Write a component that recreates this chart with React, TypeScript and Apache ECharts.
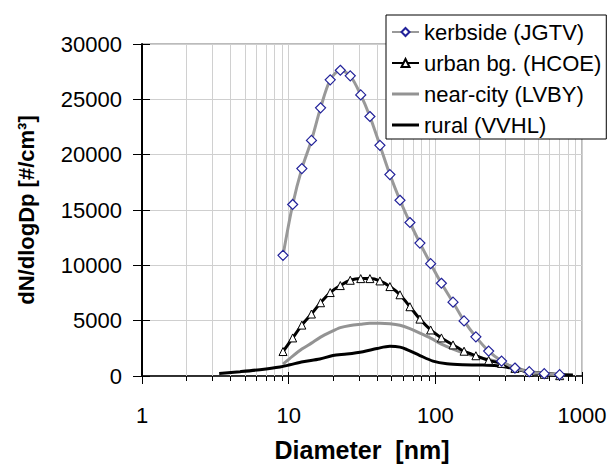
import React, { useEffect, useRef } from "react";
import * as echarts from "echarts";

// Diameters [nm] shared by kerbside, urban bg. and near-city size distributions
const diameters = [9.15, 10.65, 12.3, 14.3, 16.5, 19.2, 22.5, 26.3, 31.0, 35.8, 41.9, 49.0, 57.4, 67.1, 78.5, 92.9, 110, 132, 157, 189, 231, 283, 349, 437, 553, 704];
const kerbside = [10900, 15500, 18740, 21290, 24230, 26760, 27630, 27120, 25400, 23450, 20840, 18200, 15880, 13870, 12010, 10150, 8380, 6670, 4980, 3540, 2250, 1350, 720, 390, 210, 120];
const urbanBg = [2210, 3440, 4600, 5600, 6620, 7540, 8170, 8650, 8800, 8800, 8590, 8080, 7340, 6260, 5140, 4160, 3440, 2810, 2240, 1830, 1410, 1140, 690, 330, 150, 30];
const nearCity = [1080, 1800, 2430, 2970, 3510, 3960, 4370, 4570, 4680, 4760, 4770, 4730, 4590, 4280, 3870, 3420, 2880, 2430, 2070, 1760, 1490, 1170, 770, 410, 230, 110];
const ruralDiameters = [3.36, 4.66, 6.37, 8.72, 10.2, 12.5, 16.3, 20.0, 24.9, 32.1, 40.0, 49.0, 57.4, 64.0, 78.5, 96.3, 120, 154, 201, 263, 338, 421, 576, 867];
const rural = [225, 390, 570, 810, 1010, 1290, 1530, 1850, 1980, 2190, 2480, 2680, 2610, 2390, 1850, 1350, 1100, 1010, 990, 920, 680, 405, 207, 90];

const seriesNames = ["kerbside (JGTV)", "urban bg. (HCOE)", "near-city (LVBY)", "rural (VVHL)"];
// Minor (2..9 per decade) positions on the logarithmic diameter axis
const minorTickValues = [2, 3, 4, 5, 6, 7, 8, 9, 20, 30, 40, 50, 60, 70, 80, 90, 200, 300, 400, 500, 600, 700, 800, 900];
const xTitle = "Diameter  [nm]";
const yTitle = "dN/dlogDp [#/cm³]";

const FONT = "'Liberation Sans', Arial, Helvetica, sans-serif";
const LINE_ICON = "path://M0,0 L27,0 L27,3 L0,3 Z";

const pairs = (xs: number[], ys: number[]) => xs.map((x, i) => [x, ys[i]]);

export default function App() {
  const ref = useRef<HTMLDivElement>(null);
  useEffect(() => {
    if (!ref.current) return;
    const chart = echarts.init(ref.current, undefined, { renderer: "svg" });
    const yCommon = {
      type: "value" as const,
      min: 0,
      max: 30000,
      interval: 5000,
    };
    const xCommon = {
      type: "log" as const,
      logBase: 10,
      min: 1,
      max: 1000,
    };
    chart.setOption({
      animation: false,
      backgroundColor: "#fff",
      grid: {
        left: 142,
        right: 31,
        top: 44,
        bottom: 90,
        show: true,
        borderColor: "#777",
        borderWidth: 1,
        backgroundColor: "transparent",
      },
      legend: {
        data: [
          { name: seriesNames[0] },
          { name: seriesNames[1] },
          { name: seriesNames[2], icon: LINE_ICON },
          { name: seriesNames[3], icon: LINE_ICON },
        ],
        orient: "vertical",
        left: 386,
        top: 15,
        backgroundColor: "#fff",
        borderColor: "#000",
        borderWidth: 1,
        borderRadius: 0,
        padding: [6, 5, 3, 5],
        itemWidth: 27,
        itemHeight: 10,
        itemGap: 9,
        textStyle: { fontFamily: FONT, fontSize: 22, color: "#000", lineHeight: 22 },
      },
      xAxis: [
        {
          ...xCommon,
          name: xTitle,
          nameLocation: "middle",
          nameGap: 61,
          nameTextStyle: { fontFamily: FONT, fontSize: 25, fontWeight: "bold", color: "#000" },
          axisLine: { show: true, lineStyle: { color: "#000", width: 1.5 } },
          axisTick: { show: true, inside: false, length: 8, lineStyle: { color: "#000", width: 1 } },
          axisLabel: {
            margin: 28,
            fontFamily: FONT,
            fontSize: 22,
            color: "#000",
            formatter: (v: number) => String(Math.round(v)),
          },
          splitLine: { show: true, lineStyle: { color: "#d0d0d0", width: 1 } },
          minorTick: { show: false },
          minorSplitLine: { show: false },
        },
        {
          ...xCommon,
          position: "bottom",
          axisLine: { show: false },
          axisTick: { show: true, inside: true, length: 4, lineStyle: { color: "#000", width: 1 } },
          axisLabel: { show: false },
          splitLine: { show: false },
        },
      ],
      yAxis: [
        {
          ...yCommon,
          name: yTitle,
          nameLocation: "middle",
          nameGap: 105,
          nameRotate: 90,
          nameTextStyle: { fontFamily: FONT, fontSize: 22, fontWeight: "bold", color: "#000" },
          axisLine: { show: true, lineStyle: { color: "#000", width: 2 } },
          axisTick: { show: true, inside: false, length: 9, lineStyle: { color: "#000", width: 1 } },
          axisLabel: {
            margin: 20,
            fontFamily: FONT,
            fontSize: 22,
            color: "#000",
            formatter: (v: number) => String(Math.round(v)),
          },
          splitLine: { show: true, lineStyle: { color: "#cfcfcf", width: 1 } },
        },
        {
          ...yCommon,
          position: "left",
          axisLine: { show: false },
          axisTick: { show: true, inside: true, length: 8, lineStyle: { color: "#000", width: 1 } },
          axisLabel: { show: false },
          splitLine: { show: false },
        },
      ],
      series: [
        {
          type: "custom",
          name: "minor-grid",
          xAxisIndex: 0,
          yAxisIndex: 0,
          z: 1,
          silent: true,
          clip: false,
          data: minorTickValues.map((v) => [v, 0]),
          encode: { x: 0, y: 1 },
          renderItem: (params: any, api: any) => {
            const v = api.value(0);
            const top = api.coord([v, 30000]);
            const bot = api.coord([v, 0]);
            const x = Math.round(bot[0]) + 0.5;
            return {
              type: "group",
              children: [
                {
                  type: "line",
                  shape: { x1: x, y1: top[1], x2: x, y2: bot[1] },
                  style: { stroke: "#d0d0d0", lineWidth: 1 },
                },
                {
                  type: "line",
                  shape: { x1: x, y1: bot[1], x2: x, y2: bot[1] + 5 },
                  style: { stroke: "#000", lineWidth: 1 },
                },
              ],
            };
          },
        },
        {
          type: "line",
          name: seriesNames[0],
          xAxisIndex: 0,
          yAxisIndex: 0,
          z: 5,
          data: pairs(diameters, kerbside),
          smooth: 0.3,
          symbol: "diamond",
          symbolSize: 10,
          showSymbol: true,
          lineStyle: { color: "#999999", width: 3 },
          itemStyle: { color: "#ffffff", borderColor: "#22229a", borderWidth: 1.2 },
        },
        {
          type: "line",
          name: seriesNames[1],
          xAxisIndex: 0,
          yAxisIndex: 0,
          z: 4,
          data: pairs(diameters, urbanBg),
          smooth: 0.3,
          symbol: "triangle",
          symbolSize: 8,
          showSymbol: true,
          lineStyle: { color: "#000000", width: 3 },
          itemStyle: { color: "#ffffff", borderColor: "#000000", borderWidth: 1 },
        },
        {
          type: "line",
          name: seriesNames[2],
          xAxisIndex: 0,
          yAxisIndex: 0,
          z: 3,
          data: pairs(diameters, nearCity),
          smooth: 0.3,
          symbol: "none",
          lineStyle: { color: "#939393", width: 3 },
          itemStyle: { color: "#939393" },
        },
        {
          type: "line",
          name: seriesNames[3],
          xAxisIndex: 0,
          yAxisIndex: 0,
          z: 3,
          data: pairs(ruralDiameters, rural),
          smooth: 0.3,
          symbol: "none",
          lineStyle: { color: "#000000", width: 3 },
          itemStyle: { color: "#000000" },
        },
      ],
    });
    return () => chart.dispose();
  }, []);
  return (
    <div
      ref={ref}
      style={{ position: "fixed", left: 0, top: 0, width: 613, height: 467, background: "#fff" }}
    />
  );
}
